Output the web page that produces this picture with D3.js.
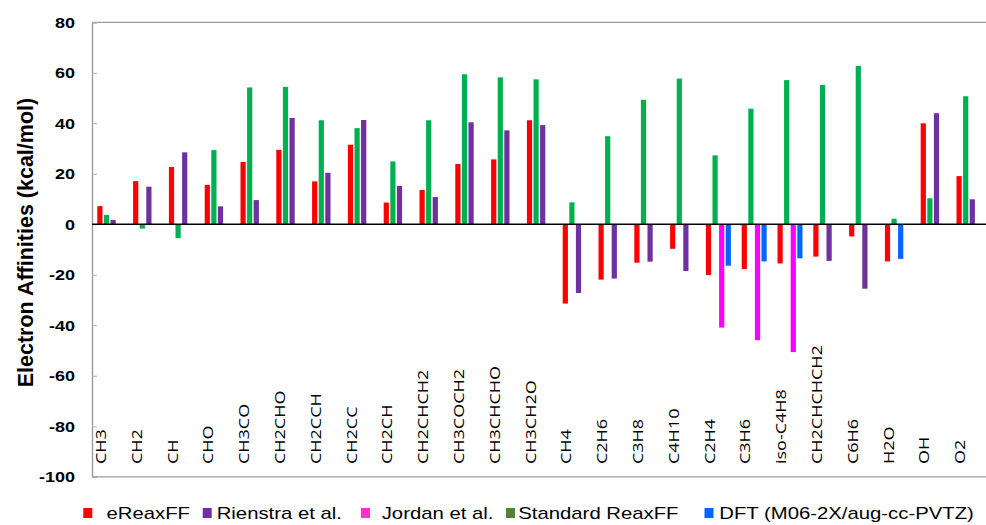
<!DOCTYPE html>
<html>
<head>
<meta charset="utf-8">
<script src="https://cdn.jsdelivr.net/npm/d3@7"></script>
<style>
  html, body { margin: 0; padding: 0; background: #fff; }
  svg { display: block; }
</style>
</head>
<body>
<svg id="chart" width="986" height="525"></svg>
<script>
// Species along the x axis
const categories = ["CH3", "CH2", "CH", "CHO", "CH3CO", "CH2CHO", "CH2CCH", "CH2CC", "CH2CH",
  "CH2CHCH2", "CH3COCH2", "CH3CHCHO", "CH3CH2O", "CH4", "C2H6", "C3H8", "C4H10", "C2H4",
  "C3H6", "iso-C4H8", "CH2CHCHCH2", "C6H6", "H2O", "OH", "O2"];

// Electron affinities (kcal/mol); null = no value for that species
const eReaxFF = [7.2, 17.1, 22.7, 15.6, 24.7, 29.5, 17.0, 31.5, 8.6, 13.6, 23.9, 25.7, 41.2,
  -31.4, -21.9, -15.2, -9.7, -20.1, -17.7, -15.5, -12.8, -4.8, -14.7, 40.0, 19.1];
const standardReaxFF = [3.7, -1.7, -5.5, 29.4, 54.2, 54.4, 41.2, 38.1, 24.9, 41.2, 59.4, 58.2, 57.4,
  8.7, 34.9, 49.3, 57.7, 27.3, 45.8, 57.1, 55.2, 62.7, 2.2, 10.3, 50.7];
const rienstra = [1.7, 14.9, 28.5, 7.1, 9.6, 42.1, 20.4, 41.3, 15.2, 10.8, 40.4, 37.2, 39.3,
  -27.2, -21.5, -14.8, -18.5, null, null, null, -14.5, -25.5, null, 44.0, 9.9];
const jordan = [null, null, null, null, null, null, null, null, null, null, null, null, null,
  null, null, null, null, -40.9, -45.9, -50.6, null, null, null, null, null];
const dft = [null, null, null, null, null, null, null, null, null, null, null, null, null,
  null, null, null, null, -16.4, -14.7, -13.5, null, null, -13.7, null, null];

const yTicks = [80, 60, 40, 20, 0, -20, -40, -60, -80, -100];

const legendItems = [
  { label: "eReaxFF", color: "#ff0000" },
  { label: "Rienstra et al.", color: "#7030a0" },
  { label: "Jordan et al.", color: "#ff33cc" },
  { label: "Standard ReaxFF", color: "#548235" },
  { label: "DFT (M06-2X/aug-cc-PVTZ)", color: "#0066ff" }
];

const colors = { ereax: "#ff0000", std: "#00b050", rienstra: "#7030a0", jordan: "#ff00ff", dft: "#0066ff" };

const svg = d3.select("#chart");
const plot = { left: 92, right: 987, top: 22.3, bottom: 476.8 };

const x = d3.scaleBand().domain(categories).range([plot.left, plot.right]).padding(0);
const bw = x.bandwidth();
const slot = d3.scaleBand().domain([0, 1, 2, 3]).range([bw * 0.148, bw * 0.846]).paddingInner(0.21);
const y = d3.scaleLinear().domain([-100, 80]).range([plot.bottom, plot.top]);

// Bars: slot 0 eReaxFF, slot 1 standard ReaxFF, slot 2 reference (Rienstra / Jordan, else DFT),
// slot 3 DFT when the reference slot is already taken
const bars = [];
categories.forEach((c, i) => {
  if (eReaxFF[i] != null) bars.push({ c, v: eReaxFF[i], s: 0, color: colors.ereax });
  if (standardReaxFF[i] != null) bars.push({ c, v: standardReaxFF[i], s: 1, color: colors.std });
  let refTaken = false;
  if (rienstra[i] != null) { bars.push({ c, v: rienstra[i], s: 2, color: colors.rienstra }); refTaken = true; }
  if (jordan[i] != null) { bars.push({ c, v: jordan[i], s: 2, color: colors.jordan }); refTaken = true; }
  if (dft[i] != null) bars.push({ c, v: dft[i], s: refTaken ? 3 : 2, color: colors.dft });
});

// Frame
const frame = svg.append("g").attr("stroke", "#9a9a9a").attr("fill", "none");
frame.append("line").attr("x1", plot.left).attr("x2", 986).attr("y1", plot.top).attr("y2", plot.top).attr("stroke-width", 1.2);
frame.append("line").attr("x1", plot.left).attr("x2", 986).attr("y1", plot.bottom).attr("y2", plot.bottom).attr("stroke-width", 1.2);

// Y axis (ticks point inward, labels drawn separately)
const yAxis = d3.axisRight(y).tickValues(yTicks).tickSize(5).tickFormat("");
const yg = svg.append("g").attr("transform", `translate(${plot.left},0)`).call(yAxis);
yg.select(".domain").attr("stroke", "#9a9a9a").attr("stroke-width", 1.4);
yg.selectAll(".tick line").attr("stroke", "#b0b0b0");

svg.append("g").selectAll("text").data(yTicks).join("text")
  .attr("transform", d => `translate(75,${y(d)}) scale(1.2,1)`)
  .attr("text-anchor", "end")
  .attr("dy", "0.36em")
  .attr("font-family", "Liberation Sans, Arial, sans-serif")
  .attr("font-weight", "bold")
  .attr("font-size", 15)
  .attr("fill", "#000")
  .text(d => d);

// Y title
svg.append("text")
  .attr("transform", `translate(32.5,${(plot.top + plot.bottom) / 2 - 7}) rotate(-90)`)
  .attr("text-anchor", "middle")
  .attr("font-family", "Liberation Sans, Arial, sans-serif")
  .attr("font-weight", "bold")
  .attr("font-size", 21.5)
  .attr("fill", "#000")
  .text("Electron Affinities (kcal/mol)");

// Bars
svg.append("g").selectAll("rect").data(bars).join("rect")
  .attr("x", d => x(d.c) + slot(d.s))
  .attr("width", slot.bandwidth())
  .attr("y", d => y(Math.max(0, d.v)))
  .attr("height", d => Math.abs(y(d.v) - y(0)))
  .attr("fill", d => d.color);

// Zero line
svg.append("line")
  .attr("x1", plot.left).attr("x2", 986)
  .attr("y1", y(0)).attr("y2", y(0))
  .attr("stroke", "#000").attr("stroke-width", 1.5);

// Category labels, rotated, reading upward from a common baseline
svg.append("g").selectAll("text").data(categories).join("text")
  .attr("transform", d => `translate(${x(d) + bw / 2 - 4},464) rotate(-90) scale(1.2,1)`)
  .attr("text-anchor", "start")
  .attr("font-family", "Open Sans, Noto Sans, sans-serif")
  .attr("font-size", 15)
  .attr("fill", "#000")
  .text(d => d);

// Legend
const legendPos = [
  { sx: 83.3, tx: 106.5 },
  { sx: 202.7, tx: 216.7 },
  { sx: 361, tx: 381.7 },
  { sx: 506, tx: 518.3 },
  { sx: 704.5, tx: 719.3 }
];
const lg = svg.append("g");
legendItems.forEach((item, i) => {
  lg.append("rect")
    .attr("x", legendPos[i].sx).attr("y", 508)
    .attr("width", 9).attr("height", 10)
    .attr("fill", item.color);
  lg.append("text")
    .attr("transform", `translate(${legendPos[i].tx},518.7) scale(1.27,1)`)
    .attr("font-family", "Liberation Sans, Arial, sans-serif")
    .attr("font-size", 16)
    .attr("fill", "#000")
    .text(item.label);
});
</script>
</body>
</html>
